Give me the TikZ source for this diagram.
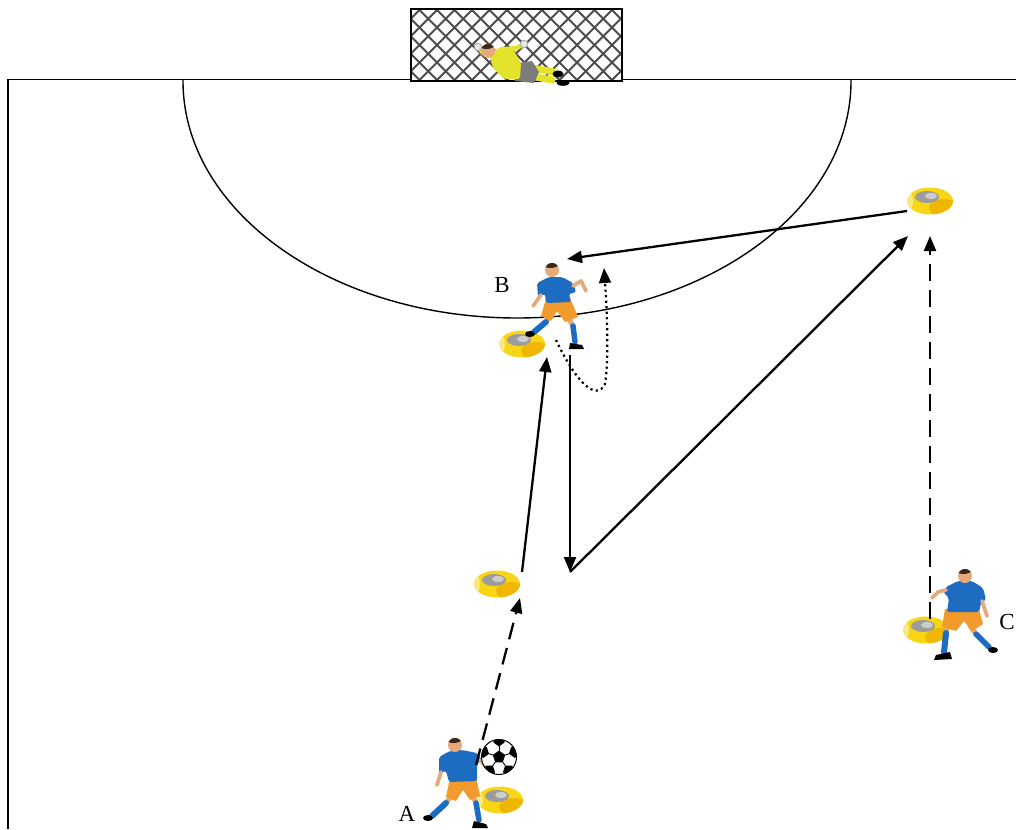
\documentclass[tikz,border=0pt]{standalone}
\usepackage{fontspec}
\setmainfont{Liberation Serif}
\usetikzlibrary{arrows.meta,calc}
\definecolor{shirtblue}{HTML}{1D6CC2}
\definecolor{shortsor}{HTML}{F39A2C}
\definecolor{skinc}{HTML}{E6A97C}
\definecolor{hairc}{HTML}{3A2818}
\definecolor{gky}{HTML}{E3E32B}
\definecolor{gkg}{HTML}{7C7C7C}
\definecolor{coney}{HTML}{F8D616}
\definecolor{coneo}{HTML}{EDB000}
\definecolor{coneg}{HTML}{9C9C9C}
\tikzset{
  fieldline/.style={line width=1.8pt, black},
  netline/.style={line width=1.8pt, black!70},
  arr/.style={line width=2.3pt, -{Triangle[length=15pt,width=12pt]}},
  dsh/.style={arr, dash pattern=on 17pt off 9pt},
  dotl/.style={arr, line width=2.2pt, dash pattern=on 2.2pt off 3.3pt},
  lbl/.style={inner sep=0pt, font=\fontsize{23}{23}\selectfont},
  limb/.style={line width=#1, line cap=round, line join=round},
  conepic/.pic={
    \fill[coney] (0,0) ellipse [x radius=23pt, y radius=13.5pt];
    \begin{scope}
      \clip (0,0) ellipse [x radius=23pt, y radius=13.5pt];
      \fill[coneo, opacity=.8] (14,7) ellipse [x radius=15pt, y radius=9pt];
      \fill[white, opacity=.45] (-22,0) ellipse [x radius=5pt, y radius=10pt];
    \end{scope}
    \fill[coneg] (-3,-4) ellipse [x radius=12pt, y radius=6pt];
    \fill[gray!40] (1,-5) ellipse [x radius=6pt, y radius=3pt];
  },
  headpic/.pic={
    \fill[skinc] (0,0) circle (7pt);
    \begin{scope}
      \clip (0,0) circle (7.1pt);
      \fill[hairc] (-1.5,-6.5) ellipse [x radius=8.5pt, y radius=4.5pt];
    \end{scope}
  }
}
\begin{document}
\begin{tikzpicture}[x=1pt,y=-1pt]
\useasboundingbox (0,0) rectangle (1016,829);
\fill[white] (0,0) rectangle (1016,829);

% field
\draw[fieldline] (8,829) -- (8,79.5) -- (1016,79.5);
\begin{scope}
  \clip (0,81) rectangle (1016,829);
  \draw[line width=1.4pt] (517,81) ellipse [x radius=334pt, y radius=237pt];
\end{scope}

% goal with net
\fill[white] (411,9) rectangle (622,81);
\begin{scope}
  \clip (411,9) rectangle (622,81);
  \foreach \k in {0,...,24} {
    \pgfmathsetmacro\xa{331+17.5*\k}
    \draw[netline] (\xa,9) -- ({\xa+72},81);
    \draw[netline] ({\xa+72},9) -- (\xa,81);
  }
\end{scope}
\draw[line width=2.2pt] (411,81) -- (411,9) -- (622,9) -- (622,81) -- cycle;

% goalkeeper
\draw[gky, limb=7pt] (532,68) -- (554,72);
\draw[gky, limb=7pt] (530,76) -- (552,80);
\fill[black] (558,74) ellipse [x radius=5.5pt, y radius=3.5pt];
\fill[black] (563,83) ellipse [x radius=6.5pt, y radius=2.8pt];
\fill[gkg] (512,64) -- (532,61) -- (539,72) -- (534,83) -- (515,81) -- cycle;
\fill[gky, rounded corners=2pt] (489,53) -- (503,46) -- (513,49) -- (521,63) -- (520,79) -- (504,79) -- (493,68) -- cycle;
\draw[gky, limb=4.5pt] (492,55) -- (483,53) -- (479,48);
\draw[gky, limb=4.5pt] (507,49) -- (517,48) -- (522,45);
\filldraw[fill=gray!20, draw=gray!70, line width=0.8pt] (478,47) circle (3.8pt);
\filldraw[fill=gray!20, draw=gray!70, line width=0.8pt] (524,44) circle (3.8pt);
\pic at (488,51) {headpic};

% cones
\pic at (522,344) {conepic};
\pic at (497,584) {conepic};
\pic at (930,201) {conepic};
\pic at (926,630) {conepic};
\pic at (500,800) {conepic};
\coordinate (coneB) at (522,344);
\coordinate (coneM) at (497,584);
\coordinate (coneT) at (930,201);
\coordinate (coneC) at (926,630);
\coordinate (coneA) at (500,800);

% player B
\draw[skinc, limb=5pt] (550,314) -- (546,322);
\draw[shirtblue, limb=6pt] (546,322) -- (534,332);
\fill[black] (530,334) ellipse [x radius=5pt, y radius=3pt];
\draw[skinc, limb=5pt] (567,316) -- (573,326);
\draw[shirtblue, limb=5.5pt] (573,326) -- (575,342);
\fill[black] (570,343) -- (582,345) -- (584,349) -- (569,349) -- cycle;
\fill[shortsor] (546,299) -- (570,298) -- (578,317) -- (565,322) -- (557,311) -- (551,321) -- (541,316) -- cycle;
\fill[shirtblue, rounded corners=2pt] (537,283) -- (549,277) -- (562,277) -- (573,283) -- (576,292) -- (569,294) -- (571,302) -- (546,303) -- (545,294) -- (538,297) -- cycle;
\draw[skinc, limb=3.8pt] (541,295) -- (533,306);
\draw[skinc, limb=3.8pt] (573,286) -- (581,281) -- (586,291);
\pic at (552,270) {headpic};

% player A
\draw[skinc, limb=5pt] (452,795) -- (446,803);
\draw[shirtblue, limb=6pt] (446,803) -- (432,816);
\fill[black] (428,818) ellipse [x radius=5pt, y radius=3pt];
\draw[skinc, limb=5pt] (472,795) -- (476,803);
\draw[shirtblue, limb=5.5pt] (476,803) -- (479,820);
\fill[black] (474,821) -- (486,824) -- (488,828) -- (472,828) -- cycle;
\fill[shortsor] (450,778) -- (476,777) -- (480,796) -- (470,800) -- (463,790) -- (456,801) -- (446,797) -- cycle;
\fill[shirtblue, rounded corners=2pt] (439,757) -- (450,751) -- (462,750) -- (477,753) -- (482,760) -- (477,764) -- (477,781) -- (449,782) -- (446,771) -- (439,773) -- cycle;
\draw[skinc, limb=3.8pt] (441,772) -- (437,785);
\draw[skinc, limb=3.8pt] (480,760) -- (487,768);
\pic at (455,745) {headpic};

% ball
\begin{scope}[shift={(499,757)}]
  \fill[white] (0,0) circle (17.5pt);
  \begin{scope}
    \clip (0,0) circle (17.5pt);
    \fill[black] (-90:6.5) -- (-18:6.5) -- (54:6.5) -- (126:6.5) -- (198:6.5) -- cycle;
    \foreach \a in {-90,-18,54,126,198} {
      \draw[line width=0.9pt] (\a:6.5) -- (\a:11);
      \fill[black] ($(\a:16.5)+(\a+180:6)$) -- ($(\a:16.5)+(\a+252:6)$) -- ($(\a:16.5)+(\a+324:6)$) -- ($(\a:16.5)+(\a+36:6)$) -- ($(\a:16.5)+(\a+108:6)$) -- cycle;
    }
  \end{scope}
  \draw[line width=1pt] (0,0) circle (17.5pt);
\end{scope}

% player C
\draw[skinc, limb=5pt] (948,625) -- (946,633);
\draw[shirtblue, limb=6pt] (946,633) -- (944,652);
\fill[black] (936,655) -- (950,652) -- (952,659) -- (934,660) -- cycle;
\draw[skinc, limb=5pt] (970,626) -- (976,634);
\draw[shirtblue, limb=5.5pt] (976,634) -- (989,647);
\fill[black] (993,650) ellipse [x radius=5pt, y radius=3pt];
\fill[shortsor] (945,609) -- (979,609) -- (983,624) -- (972,631) -- (964,621) -- (956,631) -- (942,627) -- cycle;
\fill[shirtblue, rounded corners=2pt] (946,587) -- (958,581) -- (972,581) -- (983,588) -- (986,600) -- (981,603) -- (979,612) -- (947,612) -- (949,598) -- (943,592) -- cycle;
\draw[skinc, limb=3.8pt] (946,590) -- (938,592) -- (932,598);
\draw[skinc, limb=3.8pt] (982,601) -- (987,616);
\pic at (965,576) {headpic};

% arrow end points
\coordinate (aS) at (476,765);  \coordinate (aE) at (520,598);
\coordinate (mS) at (522,572);  \coordinate (mE) at (547,357);
\coordinate (vS) at (570,355);  \coordinate (vE) at (570,572);
\coordinate (gE) at (908,236);
\coordinate (cS) at (930,619);  \coordinate (cE) at (930,236);
\coordinate (tS) at (907,211);  \coordinate (tE) at (567,259);
\coordinate (dS) at (556,340);  \coordinate (dE) at (604,268);

% arrows
\draw[dsh] (aS) -- (aE);
\draw[arr] (mS) -- (mE);
\draw[arr] (vS) -- (vE);
\draw[arr] (vE) -- (gE);
\draw[dsh] (cS) -- (cE);
\draw[arr] (tS) -- (tE);
\draw[dotl] (dS) .. controls (576,382) and (596,402) .. (605,384) .. controls (609,360) and (607,310) .. (dE);

% labels
\node[lbl] (labA) at (407,814) {A};
\node[lbl] (labB) at (502,285) {B};
\node[lbl] (labC) at (1007,622) {C};
\end{tikzpicture}
\end{document}
